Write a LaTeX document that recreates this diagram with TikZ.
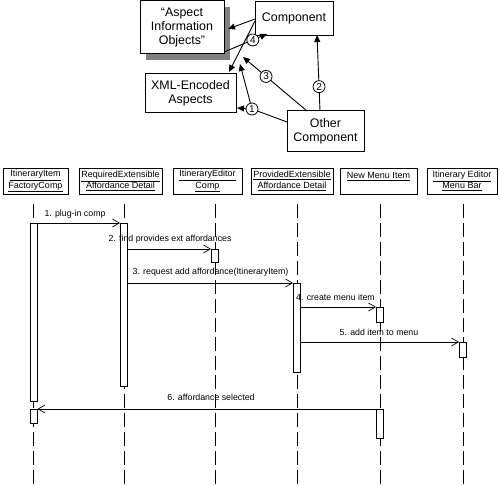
\documentclass[tikz,border=0pt]{standalone}
\usepackage{fontspec}
\setmainfont{Liberation Sans}
\usetikzlibrary{arrows.meta}
\definecolor{shadowgray}{RGB}{128,128,128}
\begin{document}
\begin{tikzpicture}[x=1pt,y=-1pt,
  tbox/.style={draw, fill=white, line width=1pt, inner sep=0pt, align=center,
    font=\fontsize{12.4}{14.3}\selectfont},
  hdr/.style={draw, fill=white, line width=0.9pt, inner sep=0pt, align=center,
    minimum height=26pt, font=\fontsize{9}{11.5}\selectfont},
  lifeline/.style={line width=0.8pt, dash pattern=on 14pt off 5pt},
  act/.style={draw, fill=white, line width=0.8pt, minimum width=7pt, inner sep=0pt, anchor=north},
  msg/.style={-{Straight Barb[length=7pt,width=8pt]}, line width=0.7pt},
  lbl/.style={inner sep=0pt, font=\fontsize{8.8}{10}\selectfont},
  tarrow/.style={-{Triangle[length=7pt,width=6pt]}, line width=0.9pt},
  tline/.style={line width=0.9pt},
  circ/.style={circle, draw, fill=white, inner sep=0pt, minimum size=12pt, line width=0.8pt,
    font=\fontsize{10}{10}\selectfont}
]
\useasboundingbox (0,0) rectangle (500,486);

% ---------- top diagram ----------
\fill[shadowgray] (146,7) rectangle (230,60);
\node[tbox, minimum width=84pt, minimum height=53pt] (aio) at (182,27.5)
  {``Aspect\\Information\\Objects''};
\node[tbox, minimum width=78pt, minimum height=34pt] (comp) at (294,18.5) {Component};
\node[tbox, minimum width=91pt, minimum height=39pt] (xml) at (190.5,93.5) {XML-Encoded\\Aspects};
\node[tbox, minimum width=77pt, minimum height=41pt] (other) at (325.5,131.5) {Other\\Component};

\coordinate (cA) at (255,19);
\coordinate (cB) at (255,21);
\coordinate (tAIO) at (228,29);
\coordinate (tXML) at (229,72);
\coordinate (s4) at (224,52);
\coordinate (t4) at (267,34);
\coordinate (s3) at (307,111);
\coordinate (t3) at (243,57);
\coordinate (s1) at (287,122);
\coordinate (t1) at (237,108);
\coordinate (t1u) at (240,64);
\coordinate (s2) at (320,111);
\coordinate (t2) at (317,35);

\draw[tarrow] (cA) -- (tAIO);
\draw[tarrow] (cB) -- (tXML);
\draw[tarrow] (s4) -- (t4) node[circ, pos=0.67] (n4) {4};
\draw[tarrow] (s3) -- (t3) node[circ, pos=0.64] (n3) {3};
\draw[tarrow] (s2) -- (t2) node[circ, pos=0.32] (n2) {2};
\node[circ] (n1) at (252,109) {1};
\draw[tline] (s1) -- (n1);
\draw[tarrow] (n1) -- (t1);
\draw[tarrow] (n1) -- (t1u);

% ---------- sequence diagram headers ----------
\node[hdr, minimum width=65pt] (h1) at (35.5,181) {\underline{ItineraryItem}\\\underline{FactoryComp}};
\node[hdr, minimum width=83pt] (h2) at (120.5,181) {\underline{RequiredExtensible}\\\underline{Affordance Detail}};
\node[hdr, minimum width=69pt] (h3) at (207.5,181) {\underline{ItineraryEditor}\\\underline{Comp}};
\node[hdr, minimum width=82pt] (h4) at (292,181) {\underline{ProvidedExtensible}\\\underline{Affordance Detail}};
\node[hdr, minimum width=77pt] (h5) at (378.5,181) {\underline{New Menu Item}\\\mbox{}};
\node[hdr, minimum width=70pt] (h6) at (462,181) {\underline{Itinerary Editor}\\\underline{Menu Bar}};

% ---------- lifelines ----------
\foreach \i/\x in {1/33,2/124,3/215,4/297,5/380,6/463}{
  \coordinate (L\i t) at (\x,204);
  \coordinate (L\i b) at (\x,486);
  \draw[lifeline] (L\i t) -- (L\i b);
}

% ---------- activations ----------
\node[act, minimum height=178pt] (a1) at (33.5,223) {};
\node[act, minimum height=163pt] (a2) at (124,223) {};
\node[act, minimum height=13pt] (a3) at (215,249) {};
\node[act, minimum height=89pt] (a4) at (297,283) {};
\node[act, minimum height=15pt] (a5) at (380,307) {};
\node[act, minimum height=15pt] (a6) at (463,342) {};
\node[act, minimum height=29pt] (a5b) at (380,409) {};
\node[act, minimum height=14pt] (a1b) at (33.5,409) {};

% ---------- messages ----------
\draw[msg] (a1.north east) -- (a2.north west);
\draw[msg] (a2.east |- a3.north) -- (a3.north west);
\draw[msg] (a2.east |- a4.north) -- (a4.north west);
\draw[msg] (a4.east |- a5.north) -- (a5.north west);
\draw[msg] (a4.east |- a6.north) -- (a6.north west);
\draw[msg] (a5b.north west) -- (a1b.north east);

\node[lbl] (m1) at (75,214) {1. plug-in comp};
\node[lbl] (m2) at (170,239) {2. find provides ext affordances};
\node[lbl] (m3) at (210.5,272) {3. request add affordance(ItineraryItem)};
\node[lbl] (m4) at (335.5,297) {4. create menu item};
\node[lbl] (m5) at (379,332) {5. add item to menu};
\node[lbl] (m6) at (211,397) {6. affordance selected};
\end{tikzpicture}
\end{document}
